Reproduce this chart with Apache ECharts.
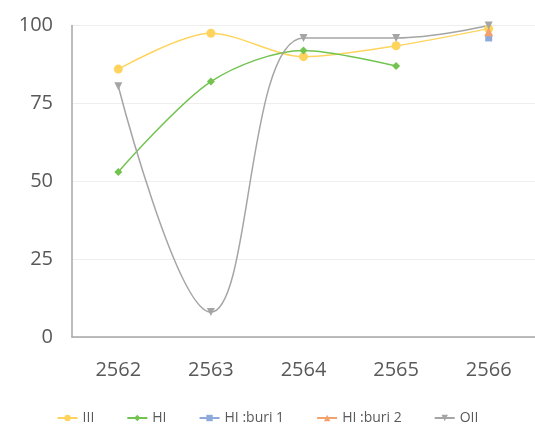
<!DOCTYPE html>
<html>
<head>
<meta charset="utf-8">
<script src="https://cdn.jsdelivr.net/npm/echarts@6/dist/echarts.min.js"></script>
<style>
  html, body { margin: 0; padding: 0; background: #fff; }
  #chart { width: 535px; height: 431px; }
</style>
</head>
<body>
<div id="chart"></div>
<script>
// Years (Buddhist era) along the x axis
const years = ['2562', '2563', '2564', '2565', '2566'];

// Percentages per group and year (null = no value that year)
const seriesIII   = [86, 97.5, 90, 93.5, 99];
const seriesHI    = [53, 82, 92, 87, null];
const seriesBuri1 = [null, null, null, null, 96];
const seriesBuri2 = [null, null, null, null, 98];
const seriesOII   = [80.5, 8, 96, 96, 100];

// Value axis ticks
const yTicks = [0, 25, 50, 75, 100];

const font = '"Open Sans", "Noto Sans", sans-serif';

function lineSeries(name, data, color, symbol, size, extra) {
  return Object.assign({
    name: name,
    type: 'line',
    data: data,
    smooth: 0.3,
    symbol: symbol,
    symbolSize: size,
    showAllSymbol: true,
    connectNulls: false,
    lineStyle: { color: color, width: 1.5 },
    itemStyle: { color: color }
  }, extra || {});
}

const chart = echarts.init(document.getElementById('chart'), null, { renderer: 'canvas' });
chart.setOption({
  animation: false,
  backgroundColor: '#ffffff',
  textStyle: { fontFamily: font },
  grid: { left: 72, right: -2, top: 25.5, bottom: 94 },
  legend: {
    bottom: 1,
    left: 'center',
    itemWidth: 20,
    itemHeight: 8,
    itemGap: 32,
    textStyle: { color: '#595959', fontSize: 14, fontFamily: font },
    data: ['III', 'HI', 'HI :buri 1', 'HI :buri 2', 'OII']
  },
  xAxis: {
    type: 'category',
    data: years,
    boundaryGap: true,
    axisLine: { show: true, lineStyle: { color: '#a6a6a6', width: 1.5 } },
    axisTick: { show: false },
    axisLabel: { color: '#595959', fontSize: 20, margin: 23, fontFamily: font }
  },
  yAxis: {
    type: 'value',
    min: yTicks[0],
    max: yTicks[yTicks.length - 1],
    interval: yTicks[1] - yTicks[0],
    axisLine: { show: true, lineStyle: { color: '#a6a6a6', width: 1.5 } },
    axisTick: { show: false },
    splitLine: { lineStyle: { color: '#eeeeee', width: 1 } },
    axisLabel: { color: '#595959', fontSize: 20, margin: 19, fontFamily: font }
  },
  series: [
    lineSeries('III', seriesIII, '#ffd45e', 'circle', 9),
    lineSeries('HI', seriesHI, '#72c34f', 'diamond', 8),
    lineSeries('HI :buri 1', seriesBuri1, '#8eaadb', 'rect', 7),
    lineSeries('HI :buri 2', seriesBuri2, '#f4a26d', 'triangle', 9),
    lineSeries('OII', seriesOII, '#a5a5a5', 'triangle', 8, { symbolRotate: 180, smooth: 0.4 })
  ]
});
</script>
</body>
</html>
